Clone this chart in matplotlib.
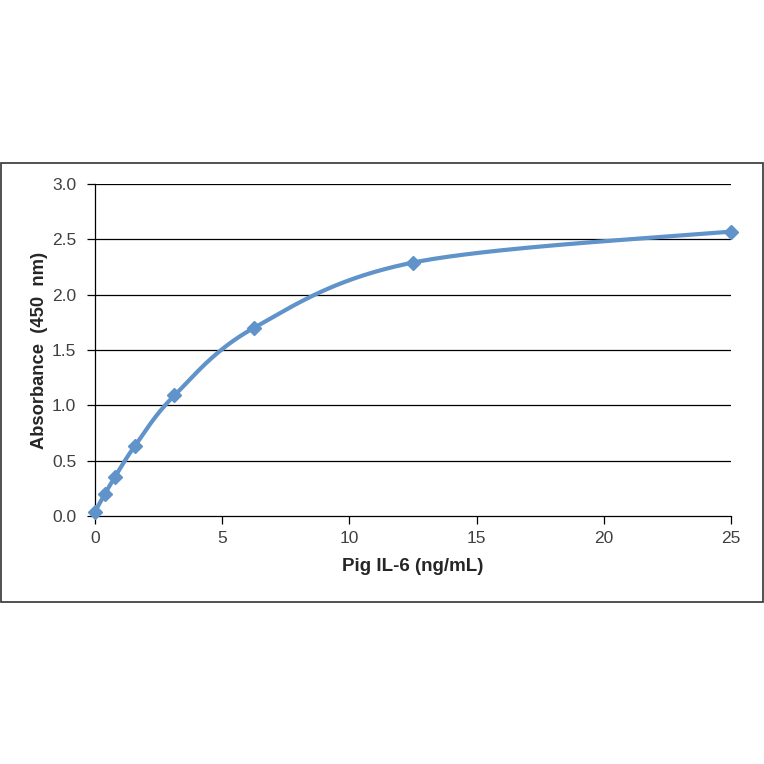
import numpy as np
import matplotlib
matplotlib.use("Agg")
import matplotlib.pyplot as plt
from matplotlib.patches import Rectangle

plt.rcParams['font.family'] = ['Liberation Sans', 'DejaVu Sans']

# standard curve values
conc = [0, 0.39, 0.78, 1.56, 3.125, 6.25, 12.5, 25]
absorb = [0.04, 0.20, 0.35, 0.63, 1.09, 1.70, 2.29, 2.57]
xticks = [0, 5, 10, 15, 20, 25]
yticks = [0.0, 0.5, 1.0, 1.5, 2.0, 2.5, 3.0]

blue = '#5f93c9'


def smooth(xs, ys, sx, sy, n=40):
    # excel-like smoothed line: bezier segments with catmull-rom handles
    p = np.column_stack([np.asarray(xs) * sx, np.asarray(ys) * sy])
    out = []
    for i in range(len(p) - 1):
        p0 = p[i - 1] if i > 0 else p[i]
        p1, p2 = p[i], p[i + 1]
        p3 = p[i + 2] if i + 2 < len(p) else p[i + 1]
        c1 = p1 + (p2 - p0) / 6
        c2 = p2 - (p3 - p1) / 6
        t = np.linspace(0, 1, n)[:, None]
        seg = ((1 - t) ** 3 * p1 + 3 * (1 - t) ** 2 * t * c1
               + 3 * (1 - t) * t ** 2 * c2 + t ** 3 * p2)
        out.append(seg)
    out = np.vstack(out)
    return out[:, 0] / sx, out[:, 1] / sy


fig = plt.figure(figsize=(7.64, 7.64), dpi=100)
fig.patches.append(Rectangle((0.0015, 0.212), 0.997, 0.5745, transform=fig.transFigure,
                             fill=False, edgecolor='#333333', linewidth=1.2))

ax = fig.add_axes([0.1243, 0.3246, 0.8325, 0.4346])
ax.set_xlim(0, 25)
ax.set_ylim(0, 3.0)

for y in yticks[1:]:
    ax.axhline(y, color='black', linewidth=0.9, zorder=1)

sx, sy = 636 / 25, 332 / 3
cx, cy = smooth(conc, absorb, sx, sy)
ax.plot(cx, cy, color=blue, linewidth=3, zorder=3, clip_on=False)
ax.plot(conc, absorb, linestyle='none', marker='D', markersize=7.5, color=blue,
        zorder=4, clip_on=False)

ax.set_xticks(xticks)
ax.set_yticks(yticks)
ax.set_yticklabels([f'{v:.1f}' for v in yticks])
ax.tick_params(axis='both', colors='black', labelcolor='#404040', labelsize=12.5,
               direction='out', length=5.5, width=0.9)
ax.tick_params(axis='y', pad=8)
ax.tick_params(axis='x', pad=5)
for s in ['top', 'right']:
    ax.spines[s].set_visible(False)
for s in ['left', 'bottom']:
    ax.spines[s].set_linewidth(0.9)

ax.set_xlabel('Pig IL-6 (ng/mL)', fontsize=13.5, fontweight='bold', color='#262626', labelpad=9)
ax.set_ylabel('Absorbance  (450  nm)', fontsize=13.2, fontweight='bold', color='#262626', labelpad=3)

fig.savefig('out.png', dpi=100)
